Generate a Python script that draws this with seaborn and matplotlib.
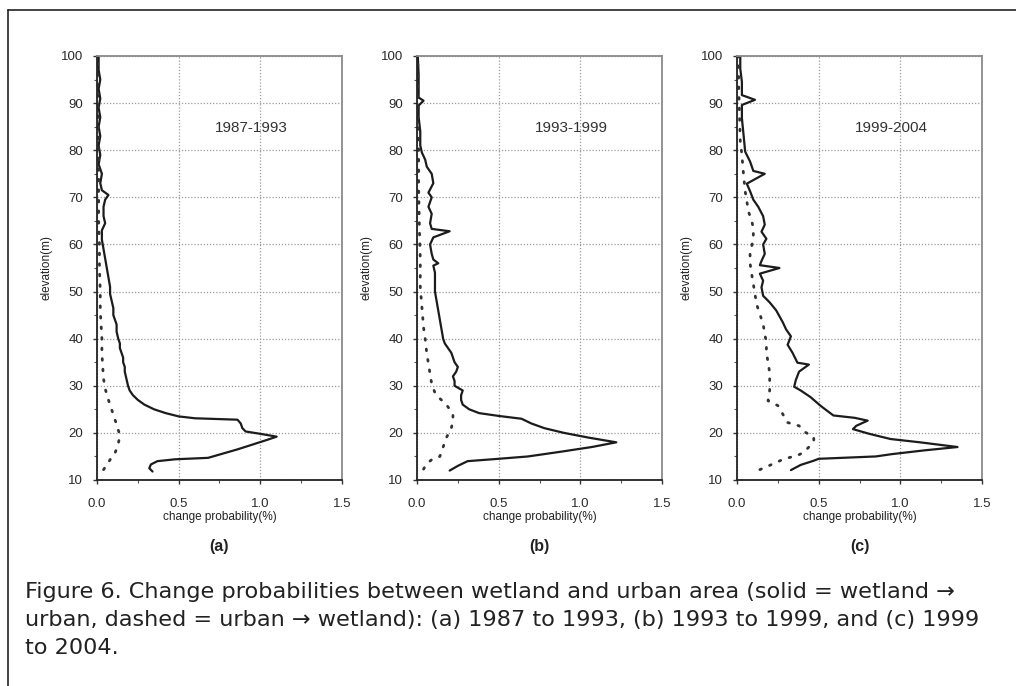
import matplotlib
matplotlib.use("Agg")
import matplotlib.pyplot as plt
from matplotlib.lines import Line2D
from matplotlib.ticker import MultipleLocator
import seaborn as sns
import numpy as np

# ---------------- data ----------------
periods = ["1987-1993", "1993-1999", "1999-2004"]
panel_tags = ["(a)", "(b)", "(c)"]
x_ticks = [0.0, 0.5, 1.0, 1.5]
x_tick_labels = ["0.0", "0.5", "1.0", "1.5"]
y_ticks = [10, 20, 30, 40, 50, 60, 70, 80, 90, 100]

# (a) 1987-1993  solid = wetland -> urban
a_solid_elev = [11.8, 12.5, 13.3, 14.0, 14.4, 14.7, 15.5, 16.5, 17.5, 18.5, 19.2, 19.8,
                20.3, 21.0, 22.0, 22.8, 23.1, 23.5, 24.2, 25.0, 26.0, 27.0, 28.0, 29.0,
                30.0, 31.5, 33.0, 34.0, 35.0, 36.0, 37.0, 38.0, 39.0, 40.0, 41.5, 43.0,
                44.0, 45.0, 46.5, 48.0, 49.5, 51.0, 53.0, 55.0, 57.0, 59.0, 61.0, 63.0,
                64.5, 66.0, 68.0, 69.5, 70.5, 71.5, 73.0, 75.0, 77.0, 79.0, 81.0, 83.0,
                85.0, 87.0, 89.0, 91.0, 93.0, 95.0, 97.0, 100.0]
a_solid_prob = [0.34, 0.32, 0.33, 0.37, 0.48, 0.68, 0.76, 0.86, 0.95, 1.04, 1.10, 1.00,
                0.91, 0.89, 0.88, 0.86, 0.60, 0.50, 0.42, 0.35, 0.29, 0.25, 0.22, 0.20,
                0.19, 0.18, 0.17, 0.17, 0.16, 0.16, 0.15, 0.14, 0.14, 0.13, 0.12, 0.12,
                0.11, 0.10, 0.10, 0.09, 0.08, 0.08, 0.07, 0.06, 0.05, 0.04, 0.03, 0.03,
                0.05, 0.04, 0.04, 0.05, 0.07, 0.03, 0.02, 0.03, 0.01, 0.02, 0.01, 0.02,
                0.01, 0.02, 0.01, 0.02, 0.01, 0.02, 0.01, 0.01]
# (a) dashed = urban -> wetland
a_dash_elev = [12.2, 13.2, 14.3, 15.7, 17.6, 19.5, 21.8, 23.8, 25.5, 27.0, 29.4, 31.5,
               34.0, 37.0, 40.0, 43.0, 46.0, 50.0, 55.0, 60.0, 65.0, 70.0, 80.0, 90.0, 100.0]
a_dash_prob = [0.04, 0.06, 0.08, 0.11, 0.13, 0.14, 0.12, 0.10, 0.085, 0.07, 0.05, 0.04,
               0.035, 0.03, 0.03, 0.025, 0.02, 0.02, 0.015, 0.015, 0.01, 0.01, 0.01, 0.005, 0.005]

# (b) 1993-1999
b_solid_elev = [12.0, 13.0, 14.0, 14.5, 15.0, 16.0, 17.0, 18.0, 19.0, 20.0, 21.0, 22.0,
                23.0, 23.6, 24.2, 25.0, 26.0, 27.0, 28.0, 29.0, 30.0, 31.0, 32.0, 33.0,
                34.0, 35.0, 36.0, 37.0, 38.0, 39.0, 40.0, 42.0, 44.0, 46.0, 48.0, 50.0,
                52.0, 54.0, 55.5, 56.0, 56.8, 58.0, 60.0, 61.5, 62.8, 63.3, 64.5, 66.5,
                68.0, 70.0, 71.0, 73.0, 75.0, 76.5, 78.0, 79.5, 81.0, 84.0, 87.0, 89.5,
                90.5, 91.2, 93.0, 96.0, 100.0]
b_solid_prob = [0.20, 0.25, 0.31, 0.50, 0.68, 0.88, 1.07, 1.22, 1.05, 0.90, 0.78, 0.70,
                0.64, 0.50, 0.38, 0.32, 0.28, 0.27, 0.27, 0.28, 0.23, 0.23, 0.22, 0.24,
                0.25, 0.23, 0.22, 0.21, 0.19, 0.17, 0.16, 0.15, 0.14, 0.13, 0.12, 0.11,
                0.11, 0.11, 0.10, 0.13, 0.10, 0.09, 0.08, 0.10, 0.20, 0.09, 0.08, 0.09,
                0.07, 0.09, 0.07, 0.10, 0.09, 0.06, 0.05, 0.03, 0.02, 0.02, 0.01, 0.01,
                0.04, 0.01, 0.01, 0.01, 0.005]
b_dash_elev = [12.3, 13.5, 14.3, 15.0, 17.0, 19.0, 21.0, 22.5, 23.7, 25.0, 26.0, 27.3,
               28.5, 30.4, 32.5, 34.7, 36.8, 40.0, 42.4, 46.7, 51.0, 57.0, 63.0, 72.0,
               80.0, 90.0, 100.0]
b_dash_prob = [0.04, 0.06, 0.09, 0.14, 0.16, 0.18, 0.21, 0.22, 0.22, 0.20, 0.18, 0.14,
               0.11, 0.09, 0.08, 0.07, 0.06, 0.05, 0.04, 0.03, 0.02, 0.02, 0.015, 0.01,
               0.01, 0.005, 0.005]

# (c) 1999-2004
c_solid_elev = [12.1, 13.2, 14.1, 14.5, 15.0, 15.5, 16.3, 17.0, 18.0, 18.7, 19.8, 20.8,
                21.5, 22.6, 23.2, 23.7, 25.0, 25.8, 27.6, 29.0, 29.8, 31.2, 33.0, 34.5,
                34.9, 37.0, 38.7, 40.5, 42.0, 43.5, 46.0, 47.7, 49.1, 50.9, 52.3, 53.8,
                55.0, 55.6, 56.5, 58.0, 60.0, 61.2, 62.7, 64.2, 66.0, 68.0, 69.5, 71.3,
                72.9, 75.0, 75.6, 77.6, 79.7, 83.3, 86.8, 89.6, 90.7, 91.7, 94.5, 97.3,
                100.0]
c_solid_prob = [0.33, 0.39, 0.47, 0.50, 0.85, 0.95, 1.15, 1.35, 1.12, 0.94, 0.81, 0.71,
                0.73, 0.80, 0.72, 0.59, 0.54, 0.51, 0.45, 0.39, 0.35, 0.36, 0.38, 0.44,
                0.37, 0.34, 0.31, 0.33, 0.30, 0.28, 0.24, 0.20, 0.16, 0.15, 0.16, 0.14,
                0.26, 0.14, 0.15, 0.17, 0.16, 0.18, 0.15, 0.17, 0.16, 0.13, 0.10, 0.08,
                0.06, 0.17, 0.10, 0.08, 0.05, 0.04, 0.03, 0.03, 0.11, 0.03, 0.03, 0.02,
                0.02]
c_dash_elev = [12.2, 13.1, 14.5, 15.2, 15.9, 17.0, 18.4, 19.1, 20.1, 21.5, 22.2, 24.0,
               25.8, 26.8, 29.0, 30.7, 32.8, 35.0, 37.1, 39.2, 41.0, 43.1, 45.2, 47.3,
               49.5, 51.6, 53.7, 56.0, 57.9, 59.6, 61.4, 63.5, 65.0, 67.0, 69.2, 71.3,
               74.8, 79.0, 82.0, 88.0, 94.0, 100.0]
c_dash_prob = [0.14, 0.20, 0.29, 0.37, 0.41, 0.44, 0.47, 0.47, 0.42, 0.38, 0.31, 0.28,
               0.25, 0.19, 0.20, 0.20, 0.20, 0.19, 0.18, 0.18, 0.17, 0.16, 0.14, 0.12,
               0.11, 0.10, 0.09, 0.08, 0.08, 0.09, 0.10, 0.10, 0.09, 0.07, 0.06, 0.05,
               0.04, 0.03, 0.02, 0.015, 0.01, 0.01]

caption_lines = [
    "Figure 6. Change probabilities between wetland and urban area (solid = wetland \u2192",
    "urban, dashed = urban \u2192 wetland): (a) 1987 to 1993, (b) 1993 to 1999, and (c) 1999",
    "to 2004.",
]

# ---------------- style ----------------
sns.set_style("white")
plt.rcParams["font.family"] = ["Liberation Sans", "DejaVu Sans"]

W, H = 1016, 686
fig = plt.figure(figsize=(W / 100, H / 100), dpi=100)

lefts_px = [97, 417, 737]
ax_w_px, top_px, bot_px = 245, 56, 480

solids = [(a_solid_elev, a_solid_prob), (b_solid_elev, b_solid_prob), (c_solid_elev, c_solid_prob)]
dashes = [(a_dash_elev, a_dash_prob), (b_dash_elev, b_dash_prob), (c_dash_elev, c_dash_prob)]

for i in range(3):
    ax = fig.add_axes([lefts_px[i] / W, 1 - bot_px / H, ax_w_px / W, (bot_px - top_px) / H])
    ax.set_xlim(0, 1.5)
    ax.set_ylim(10, 100)
    ax.grid(True, which="major", linestyle=(0, (1, 1.5)), color="#9a9a9a", lw=0.9)
    ax.set_axisbelow(True)

    se, sp = solids[i]
    de, dp = dashes[i]
    sns.lineplot(x=sp, y=se, sort=False, estimator=None, color="#1c1c1c", lw=1.6, ax=ax)
    sns.lineplot(x=dp, y=de, sort=False, estimator=None, color="#333333", lw=2.0,
                 linestyle=(0, (0.6, 3.2)), dash_capstyle="round", ax=ax)

    ax.set_xticks(x_ticks)
    ax.set_xticklabels(x_tick_labels)
    ax.set_yticks(y_ticks)
    ax.xaxis.set_minor_locator(MultipleLocator(0.25))
    ax.yaxis.set_minor_locator(MultipleLocator(5))
    ax.tick_params(axis="both", which="major", direction="out", length=3, width=1,
                   color="#333333", labelsize=9.5, labelcolor="#2a2a2a")
    ax.tick_params(axis="x", which="major", pad=10)
    ax.tick_params(axis="y", which="major", pad=7)
    ax.tick_params(axis="both", which="minor", direction="out", length=2, width=0.8,
                   color="#555555")
    ax.tick_params(left=True, bottom=True, which="both")

    for side in ["left", "bottom"]:
        ax.spines[side].set_color("#222222")
        ax.spines[side].set_linewidth(1.3)
    for side in ["top", "right"]:
        ax.spines[side].set_color("#8a8a8a")
        ax.spines[side].set_linewidth(1.3)
        ax.spines[side].set_visible(True)

    ax.set_xlabel("change probability(%)", fontsize=8.5, color="#222222")
    ax.xaxis.set_label_coords(0.5, -0.072)
    ax.set_ylabel("elevation(m)", fontsize=8.5, color="#222222")
    ax.yaxis.set_label_coords(-0.18, 0.5)

    ax.text(0.72, 84.7, periods[i], fontsize=11, color="#333333", ha="left", va="center")
    ax.text(0.5, -0.158, panel_tags[i], transform=ax.transAxes, fontsize=11.5,
            fontweight="bold", color="#222222", ha="center", va="center")

# caption: size chosen so that the second line spans the page width as in the source
cap_family = ["DejaVu Sans"]
renderer = fig.canvas.get_renderer()
probe = fig.text(0, 0, caption_lines[1], fontsize=14, family=cap_family)
probe_w = probe.get_window_extent(renderer=renderer).width
probe.remove()
cap_size = 14 * 958 / probe_w

cap_y = [592, 620, 648]
for line, y in zip(caption_lines, cap_y):
    fig.text(25 / W, 1 - y / H, line, fontsize=cap_size, color="#222222", ha="left",
             va="center", family=cap_family)

# page frame (top and left rules)
fig.add_artist(Line2D([8 / W, 1.0], [1 - 10 / H, 1 - 10 / H], transform=fig.transFigure,
                      color="#222222", lw=1.2))
fig.add_artist(Line2D([8 / W, 8 / W], [0.0, 1 - 10 / H], transform=fig.transFigure,
                      color="#222222", lw=1.2))

fig.savefig("out.png", dpi=100)
